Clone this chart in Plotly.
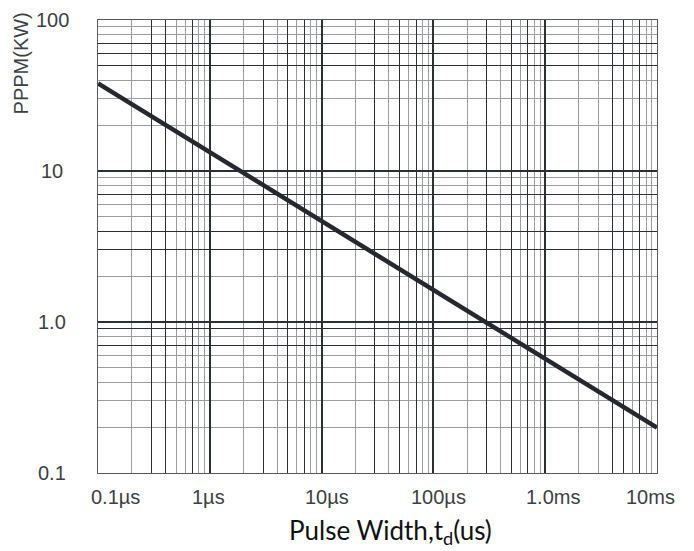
import numpy as np
import plotly.graph_objects as go

# ---- data ----
pulse_width_us = [0.1, 1, 10, 100, 1000, 10000]
pppm_kw = [38, 13.3, 4.7, 1.63, 0.57, 0.2]

x_tick_vals = [0.1, 1, 10, 100, 1000, 10000]
x_tick_text = ["0.1µs", "1µs", "10µs", "100µs", "1.0ms", "10ms"]
y_tick_vals = [100, 10, 1, 0.1]
y_tick_text = ["100", "10", "1.0", "0.1"]

# darker minor grid lines seen in the scanned grid
x_dark_lines = [0.3, 0.4, 0.7, 3, 5, 7, 30, 50, 70, 300, 500, 700, 4000, 5000, 7000]
y_dark_lines = [70, 60, 50, 7, 4, 3, 0.9, 0.7]

# ---- styling ----
DARK = "#2b2f36"
LIGHT = "#9a9c a0".replace(" ", "")
LABEL = "#3c3f44"
x_label_shift = [17, -1, 5, 5, 8, -7]

fig = go.Figure()
fig.add_trace(go.Scatter(
    x=pulse_width_us, y=pppm_kw, mode="lines",
    line=dict(color="#25282e", width=4.5),
    xaxis="x2", yaxis="y2", showlegend=False, hoverinfo="skip",
))

common_axis = dict(type="log", showticklabels=False, ticks="", zeroline=False)
fig.update_layout(
    width=694, height=551,
    margin=dict(l=98, r=37, t=20, b=78),
    paper_bgcolor="white", plot_bgcolor="white",
    showlegend=False,
    xaxis=dict(**common_axis, range=[-1, 4], dtick=1,
               showgrid=True, gridcolor=DARK, gridwidth=1.5,
               minor=dict(dtick="D1", showgrid=True, gridcolor=LIGHT, gridwidth=1.3),
               showline=True, linecolor="#555a60", linewidth=1.2, mirror=True),
    yaxis=dict(**common_axis, range=[-1, 2], dtick=1,
               showgrid=True, gridcolor=DARK, gridwidth=1.5,
               minor=dict(dtick="D1", showgrid=True, gridcolor=LIGHT, gridwidth=1.3),
               showline=True, linecolor="#555a60", linewidth=1.2, mirror=True),
    xaxis2=dict(**common_axis, range=[-1, 4], overlaying="x",
                tickmode="array", tickvals=x_dark_lines,
                showgrid=True, gridcolor=DARK, gridwidth=1.3, showline=False),
    yaxis2=dict(**common_axis, range=[-1, 2], overlaying="y",
                tickmode="array", tickvals=y_dark_lines,
                showgrid=True, gridcolor=DARK, gridwidth=1.3, showline=False),
)

annotations = []
for v, t, s in zip(x_tick_vals, x_tick_text, x_label_shift):
    annotations.append(dict(
        x=np.log10(v), y=0, xref="x", yref="paper", text=t, showarrow=False,
        xanchor="center", yanchor="middle", xshift=s, yshift=-24,
        font=dict(family="Liberation Sans, Arial", size=20, color=LABEL),
    ))
for v, t in zip(y_tick_vals, y_tick_text):
    annotations.append(dict(
        x=0, y=np.log10(v), xref="paper", yref="y", text=t, showarrow=False,
        xanchor="center", yanchor="middle", xshift=-46,
        font=dict(family="Liberation Sans, Arial", size=20, color=LABEL),
    ))
annotations.append(dict(
    x=-0.137, y=0.905, xref="paper", yref="paper", text="PPPM(KW)",
    showarrow=False, textangle=-90, xanchor="center", yanchor="middle",
    font=dict(family="Liberation Sans, Arial", size=20, color=LABEL),
))
annotations.append(dict(
    x=0.524, y=-0.13, xref="paper", yref="paper", text="Pulse Width,t<sub>d</sub>(us)",
    showarrow=False, xanchor="center", yanchor="middle",
    font=dict(family="Lato, Open Sans", size=26, color="#111111"),
))
fig.update_layout(annotations=annotations)

fig.write_html("out.html")
